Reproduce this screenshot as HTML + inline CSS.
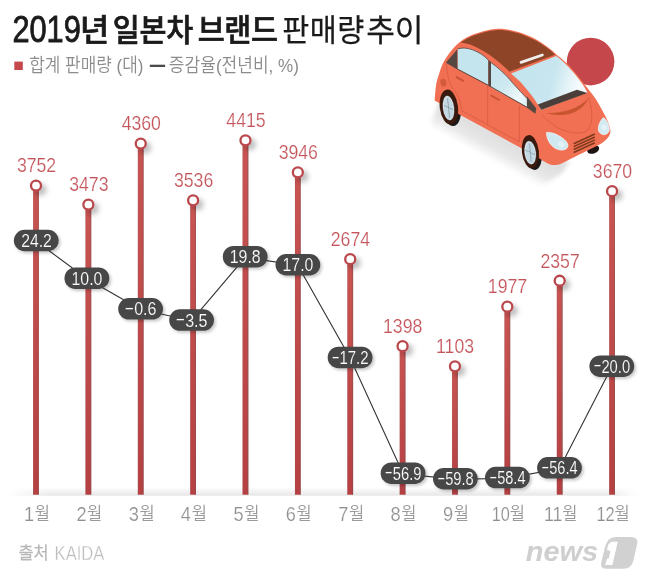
<!DOCTYPE html>
<html lang="ko">
<head>
<meta charset="utf-8">
<title>2019년 일본차 브랜드 판매량 추이</title>
<style>
html,body{margin:0;padding:0;background:#fff;}
body{width:647px;height:582px;overflow:hidden;font-family:"Liberation Sans","Noto Sans CJK KR",sans-serif;}
svg{display:block;}
text{font-family:"Liberation Sans","Noto Sans CJK KR",sans-serif;white-space:pre;}
</style>
</head>
<body>
<svg width="647" height="582" viewBox="0 0 647 582">
<defs>
<filter id="sh" x="-50%" y="-50%" width="220%" height="220%">
<feDropShadow dx="4.3" dy="4" stdDeviation="2.5" flood-color="#000" flood-opacity="0.25"/>
</filter>
<filter id="sh2" x="-30%" y="-50%" width="160%" height="220%">
<feDropShadow dx="1.8" dy="2" stdDeviation="1.7" flood-color="#000" flood-opacity="0.22"/>
</filter>
<linearGradient id="barv" x1="0" y1="0" x2="0" y2="1">
<stop offset="0" stop-color="#ca5452"/>
<stop offset="1" stop-color="#b63f42"/>
</linearGradient>
<linearGradient id="bare" x1="0" y1="0" x2="1" y2="0">
<stop offset="0" stop-color="#7a5a5a" stop-opacity="0.3"/>
<stop offset="0.2" stop-color="#7a5a5a" stop-opacity="0"/>
<stop offset="0.72" stop-color="#6a5555" stop-opacity="0"/>
<stop offset="0.9" stop-color="#6a5555" stop-opacity="0.38"/>
<stop offset="1" stop-color="#6a5555" stop-opacity="0.42"/>
</linearGradient>
<linearGradient id="floor" x1="0" y1="0" x2="0" y2="1">
<stop offset="0" stop-color="#ffffff"/>
<stop offset="1" stop-color="#e6e6e6"/>
</linearGradient>
<linearGradient id="floorfade" x1="0" y1="0" x2="1" y2="0">
<stop offset="0" stop-color="#fff" stop-opacity="1"/>
<stop offset="0.07" stop-color="#fff" stop-opacity="0"/>
<stop offset="0.95" stop-color="#fff" stop-opacity="0"/>
<stop offset="1" stop-color="#fff" stop-opacity="1"/>
</linearGradient>
<linearGradient id="glassW" gradientUnits="userSpaceOnUse" x1="528" y1="72" x2="578" y2="86">
<stop offset="0" stop-color="#c4e4ee"/>
<stop offset="0.5" stop-color="#c8e6ef"/>
<stop offset="0.8" stop-color="#e4f3f7"/>
<stop offset="1" stop-color="#f3fafc"/>
</linearGradient>
<linearGradient id="glassS" gradientUnits="userSpaceOnUse" x1="492" y1="70" x2="528" y2="100">
<stop offset="0" stop-color="#c4e4ee"/>
<stop offset="0.45" stop-color="#cfe9f1"/>
<stop offset="0.8" stop-color="#eef8fb"/>
<stop offset="1" stop-color="#dff1f6"/>
</linearGradient>
<filter id="carsh" x="-20%" y="-40%" width="140%" height="180%">
<feGaussianBlur stdDeviation="2"/>
</filter>
<linearGradient id="shg" gradientUnits="userSpaceOnUse" x1="480" y1="125" x2="467.6" y2="147.8">
<stop offset="0" stop-color="#000" stop-opacity="0.13"/>
<stop offset="0.55" stop-color="#000" stop-opacity="0.095"/>
<stop offset="1" stop-color="#000" stop-opacity="0"/>
</linearGradient>

</defs>
<rect width="647" height="582" fill="#ffffff"/>
<g id="title">
<text><tspan x="12.41" y="41.80" font-size="36.8" font-weight="400" fill="#1a1a1a" textLength="68.41" lengthAdjust="spacingAndGlyphs" stroke="#1a1a1a" stroke-width="0.8" stroke-linejoin="round">2019</tspan><tspan x="79.94" y="41.00" font-size="31.2" font-weight="500" fill="#1a1a1a" textLength="29.22" lengthAdjust="spacingAndGlyphs" stroke="#1a1a1a" stroke-width="0.7">년</tspan> <tspan x="112.74" y="41.00" font-size="31.2" font-weight="500" fill="#1a1a1a" letter-spacing="-0.212" textLength="80.35" lengthAdjust="spacingAndGlyphs" stroke="#1a1a1a" stroke-width="0.7">일본차</tspan> <tspan x="197.63" y="41.00" font-size="31.2" font-weight="500" fill="#1a1a1a" letter-spacing="-0.372" textLength="79.90" lengthAdjust="spacingAndGlyphs" stroke="#1a1a1a" stroke-width="0.7">브랜드</tspan> <tspan x="282.23" y="41.00" font-size="31.2" font-weight="400" fill="#1a1a1a" letter-spacing="0.532" textLength="82.45" lengthAdjust="spacingAndGlyphs" stroke="#1a1a1a" stroke-width="0.25">판매량</tspan> <tspan x="366.14" y="41.00" font-size="31.2" font-weight="400" fill="#1a1a1a" letter-spacing="-0.192" textLength="57.02" lengthAdjust="spacingAndGlyphs" stroke="#1a1a1a" stroke-width="0.25">추이</tspan></text>
</g>
<g id="legend">
<rect x="14.3" y="61.6" width="8.5" height="8.4" fill="#c4484c"/>
<text><tspan x="29.25" y="72.20" font-size="18.9" font-weight="350" fill="#8c8c8c" textLength="114.14" lengthAdjust="spacingAndGlyphs" >합계 판매량 (대)</tspan> <tspan x="168.85" y="72.20" font-size="18.9" font-weight="350" fill="#8c8c8c" textLength="130.06" lengthAdjust="spacingAndGlyphs" >증감율(전년비, %)</tspan></text>
<rect x="149.8" y="64.7" width="15.3" height="2.3" fill="#4a4a4a"/>
</g>
<rect x="8" y="487.2" width="630" height="8.5" fill="url(#floor)"/>
<rect x="8" y="487" width="630" height="9" fill="url(#floorfade)"/>
<g id="bars">
<rect x="33.10" y="185.56" width="5.8" height="309.14" fill="url(#barv)"/><rect x="33.10" y="185.56" width="5.8" height="309.14" fill="url(#bare)"/>
<rect x="85.47" y="204.60" width="5.8" height="290.10" fill="url(#barv)"/><rect x="85.47" y="204.60" width="5.8" height="290.10" fill="url(#bare)"/>
<rect x="137.84" y="143.57" width="5.8" height="351.13" fill="url(#barv)"/><rect x="137.84" y="143.57" width="5.8" height="351.13" fill="url(#bare)"/>
<rect x="190.21" y="200.30" width="5.8" height="294.40" fill="url(#barv)"/><rect x="190.21" y="200.30" width="5.8" height="294.40" fill="url(#bare)"/>
<rect x="242.58" y="140.32" width="5.8" height="354.38" fill="url(#barv)"/><rect x="242.58" y="140.32" width="5.8" height="354.38" fill="url(#bare)"/>
<rect x="294.95" y="172.32" width="5.8" height="322.38" fill="url(#barv)"/><rect x="294.95" y="172.32" width="5.8" height="322.38" fill="url(#bare)"/>
<rect x="347.32" y="259.13" width="5.8" height="235.57" fill="url(#barv)"/><rect x="347.32" y="259.13" width="5.8" height="235.57" fill="url(#bare)"/>
<rect x="399.69" y="346.20" width="5.8" height="148.50" fill="url(#barv)"/><rect x="399.69" y="346.20" width="5.8" height="148.50" fill="url(#bare)"/>
<rect x="452.06" y="366.33" width="5.8" height="128.37" fill="url(#barv)"/><rect x="452.06" y="366.33" width="5.8" height="128.37" fill="url(#bare)"/>
<rect x="504.43" y="306.69" width="5.8" height="188.01" fill="url(#barv)"/><rect x="504.43" y="306.69" width="5.8" height="188.01" fill="url(#bare)"/>
<rect x="556.80" y="280.76" width="5.8" height="213.94" fill="url(#barv)"/><rect x="556.80" y="280.76" width="5.8" height="213.94" fill="url(#bare)"/>
<rect x="609.17" y="191.16" width="5.8" height="303.54" fill="url(#barv)"/><rect x="609.17" y="191.16" width="5.8" height="303.54" fill="url(#bare)"/>
</g>
<g id="dots" filter="url(#sh)" fill="#fff" stroke="#b9474c" stroke-width="2.3">
<circle cx="36.00" cy="185.56" r="5.0"/>
<circle cx="88.37" cy="204.60" r="5.0"/>
<circle cx="140.74" cy="143.57" r="5.0"/>
<circle cx="193.11" cy="200.30" r="5.0"/>
<circle cx="245.48" cy="140.32" r="5.0"/>
<circle cx="297.85" cy="172.32" r="5.0"/>
<circle cx="350.22" cy="259.13" r="5.0"/>
<circle cx="402.59" cy="346.20" r="5.0"/>
<circle cx="454.96" cy="366.33" r="5.0"/>
<circle cx="507.33" cy="306.69" r="5.0"/>
<circle cx="559.70" cy="280.76" r="5.0"/>
<circle cx="612.07" cy="191.16" r="5.0"/>
</g>
<g id="vals">
<text><tspan x="16.89" y="172.36" font-size="20.5" font-weight="400" fill="#c4545a" textLength="39.31" lengthAdjust="spacingAndGlyphs" stroke="#ffffff" stroke-width="0.2">3752</tspan></text>
<text><tspan x="69.17" y="191.40" font-size="20.5" font-weight="400" fill="#c4545a" textLength="39.31" lengthAdjust="spacingAndGlyphs" stroke="#ffffff" stroke-width="0.2">3473</tspan></text>
<text><tspan x="121.63" y="130.37" font-size="20.5" font-weight="400" fill="#c4545a" textLength="39.31" lengthAdjust="spacingAndGlyphs" stroke="#ffffff" stroke-width="0.2">4360</tspan></text>
<text><tspan x="173.91" y="187.10" font-size="20.5" font-weight="400" fill="#c4545a" textLength="39.31" lengthAdjust="spacingAndGlyphs" stroke="#ffffff" stroke-width="0.2">3536</tspan></text>
<text><tspan x="226.37" y="127.12" font-size="20.5" font-weight="400" fill="#c4545a" textLength="39.31" lengthAdjust="spacingAndGlyphs" stroke="#ffffff" stroke-width="0.2">4415</tspan></text>
<text><tspan x="278.65" y="159.12" font-size="20.5" font-weight="400" fill="#c4545a" textLength="39.31" lengthAdjust="spacingAndGlyphs" stroke="#ffffff" stroke-width="0.2">3946</tspan></text>
<text><tspan x="330.75" y="245.93" font-size="20.5" font-weight="400" fill="#c4545a" textLength="39.31" lengthAdjust="spacingAndGlyphs" stroke="#ffffff" stroke-width="0.2">2674</tspan></text>
<text><tspan x="383.04" y="333.00" font-size="20.5" font-weight="400" fill="#c4545a" textLength="39.31" lengthAdjust="spacingAndGlyphs" stroke="#ffffff" stroke-width="0.2">1398</tspan></text>
<text><tspan x="436.06" y="353.13" font-size="20.5" font-weight="400" fill="#c4545a" textLength="38.00" lengthAdjust="spacingAndGlyphs" stroke="#ffffff" stroke-width="0.2">1103</tspan></text>
<text><tspan x="487.86" y="293.49" font-size="20.5" font-weight="400" fill="#c4545a" textLength="39.31" lengthAdjust="spacingAndGlyphs" stroke="#ffffff" stroke-width="0.2">1977</tspan></text>
<text><tspan x="540.41" y="267.56" font-size="20.5" font-weight="400" fill="#c4545a" textLength="39.31" lengthAdjust="spacingAndGlyphs" stroke="#ffffff" stroke-width="0.2">2357</tspan></text>
<text><tspan x="592.87" y="177.96" font-size="20.5" font-weight="400" fill="#c4545a" textLength="39.31" lengthAdjust="spacingAndGlyphs" stroke="#ffffff" stroke-width="0.2">3670</tspan></text>
</g>
<polyline points="36.2,241.2 86.9,278.8 140.6,309.5 191.6,320.7 245.2,257.3 297.9,265.4 350.1,358.1 403.1,473.8 455.4,479.4 507.4,478.2 559.5,468.5 611.8,366.8" fill="none" stroke="#333" stroke-width="1.1"/>
<g id="pills" filter="url(#sh2)" fill="#464646">
<rect x="13.85" y="229.75" width="44.8" height="21.5" rx="10.75"/>
<rect x="64.50" y="267.40" width="44.8" height="21.5" rx="10.75"/>
<rect x="118.20" y="298.10" width="44.8" height="21.5" rx="10.75"/>
<rect x="169.20" y="309.30" width="44.8" height="21.5" rx="10.75"/>
<rect x="222.80" y="245.90" width="44.8" height="21.5" rx="10.75"/>
<rect x="275.50" y="254.00" width="44.8" height="21.5" rx="10.75"/>
<rect x="327.70" y="346.70" width="44.8" height="21.5" rx="10.75"/>
<rect x="380.70" y="462.40" width="44.8" height="21.5" rx="10.75"/>
<rect x="433.00" y="468.00" width="44.8" height="21.5" rx="10.75"/>
<rect x="485.00" y="466.80" width="44.8" height="21.5" rx="10.75"/>
<rect x="537.10" y="457.10" width="44.8" height="21.5" rx="10.75"/>
<rect x="589.40" y="355.40" width="44.8" height="21.5" rx="10.75"/>
</g>
<g id="ptext">
<text><tspan x="21.16" y="246.95" font-size="18.6" font-weight="400" fill="#ffffff" textLength="30.72" lengthAdjust="spacingAndGlyphs" stroke="#464646" stroke-width="0.15">24.2</tspan></text>
<text><tspan x="71.49" y="284.60" font-size="18.6" font-weight="400" fill="#ffffff" textLength="30.88" lengthAdjust="spacingAndGlyphs" stroke="#464646" stroke-width="0.15">10.0</tspan></text>
<text><tspan x="124.33" y="313.10" font-size="16" font-weight="400" fill="#ffffff" textLength="10.12" lengthAdjust="spacingAndGlyphs" stroke="#464646" stroke-width="0.15">-</tspan><tspan x="134.17" y="315.30" font-size="18.6" font-weight="400" fill="#ffffff" textLength="22.36" lengthAdjust="spacingAndGlyphs" stroke="#464646" stroke-width="0.15">0.6</tspan></text>
<text><tspan x="175.33" y="324.30" font-size="16" font-weight="400" fill="#ffffff" textLength="10.12" lengthAdjust="spacingAndGlyphs" stroke="#464646" stroke-width="0.15">-</tspan><tspan x="185.17" y="326.50" font-size="18.6" font-weight="400" fill="#ffffff" textLength="22.36" lengthAdjust="spacingAndGlyphs" stroke="#464646" stroke-width="0.15">3.5</tspan></text>
<text><tspan x="229.79" y="263.10" font-size="18.6" font-weight="400" fill="#ffffff" textLength="30.88" lengthAdjust="spacingAndGlyphs" stroke="#464646" stroke-width="0.15">19.8</tspan></text>
<text><tspan x="282.49" y="271.20" font-size="18.6" font-weight="400" fill="#ffffff" textLength="30.88" lengthAdjust="spacingAndGlyphs" stroke="#464646" stroke-width="0.15">17.0</tspan></text>
<text><tspan x="331.64" y="361.70" font-size="16" font-weight="400" fill="#ffffff" textLength="8.39" lengthAdjust="spacingAndGlyphs" stroke="#464646" stroke-width="0.15">-</tspan><tspan x="339.40" y="363.90" font-size="18.6" font-weight="400" fill="#ffffff" textLength="29.14" lengthAdjust="spacingAndGlyphs" stroke="#464646" stroke-width="0.15">17.2</tspan></text>
<text><tspan x="384.64" y="477.40" font-size="16" font-weight="400" fill="#ffffff" textLength="8.39" lengthAdjust="spacingAndGlyphs" stroke="#464646" stroke-width="0.15">-</tspan><tspan x="392.86" y="479.60" font-size="18.6" font-weight="400" fill="#ffffff" textLength="28.67" lengthAdjust="spacingAndGlyphs" stroke="#464646" stroke-width="0.15">56.9</tspan></text>
<text><tspan x="436.94" y="483.00" font-size="16" font-weight="400" fill="#ffffff" textLength="8.39" lengthAdjust="spacingAndGlyphs" stroke="#464646" stroke-width="0.15">-</tspan><tspan x="445.16" y="485.20" font-size="18.6" font-weight="400" fill="#ffffff" textLength="28.52" lengthAdjust="spacingAndGlyphs" stroke="#464646" stroke-width="0.15">59.8</tspan></text>
<text><tspan x="488.94" y="481.80" font-size="16" font-weight="400" fill="#ffffff" textLength="8.39" lengthAdjust="spacingAndGlyphs" stroke="#464646" stroke-width="0.15">-</tspan><tspan x="497.17" y="484.00" font-size="18.6" font-weight="400" fill="#ffffff" textLength="28.36" lengthAdjust="spacingAndGlyphs" stroke="#464646" stroke-width="0.15">58.4</tspan></text>
<text><tspan x="541.04" y="472.10" font-size="16" font-weight="400" fill="#ffffff" textLength="8.39" lengthAdjust="spacingAndGlyphs" stroke="#464646" stroke-width="0.15">-</tspan><tspan x="549.27" y="474.30" font-size="18.6" font-weight="400" fill="#ffffff" textLength="28.36" lengthAdjust="spacingAndGlyphs" stroke="#464646" stroke-width="0.15">56.4</tspan></text>
<text><tspan x="593.34" y="370.40" font-size="16" font-weight="400" fill="#ffffff" textLength="8.39" lengthAdjust="spacingAndGlyphs" stroke="#464646" stroke-width="0.15">-</tspan><tspan x="601.41" y="372.60" font-size="18.6" font-weight="400" fill="#ffffff" textLength="28.67" lengthAdjust="spacingAndGlyphs" stroke="#464646" stroke-width="0.15">20.0</tspan></text>
</g>
<g id="months">
<text><tspan x="24.11" y="520.90" font-size="20.7" font-weight="400" fill="#909090" textLength="10.13" lengthAdjust="spacingAndGlyphs" stroke="#ffffff" stroke-width="0.2">1</tspan><tspan x="34.74" y="520.40" font-size="18.7" font-weight="350" fill="#9a9a9a" textLength="15.22" lengthAdjust="spacingAndGlyphs" >월</tspan></text>
<text><tspan x="76.48" y="520.90" font-size="20.7" font-weight="400" fill="#909090" textLength="10.13" lengthAdjust="spacingAndGlyphs" stroke="#ffffff" stroke-width="0.2">2</tspan><tspan x="87.11" y="520.40" font-size="18.7" font-weight="350" fill="#9a9a9a" textLength="15.22" lengthAdjust="spacingAndGlyphs" >월</tspan></text>
<text><tspan x="128.67" y="520.90" font-size="20.7" font-weight="400" fill="#909090" textLength="10.13" lengthAdjust="spacingAndGlyphs" stroke="#ffffff" stroke-width="0.2">3</tspan><tspan x="139.48" y="520.40" font-size="18.7" font-weight="350" fill="#9a9a9a" textLength="15.22" lengthAdjust="spacingAndGlyphs" >월</tspan></text>
<text><tspan x="180.86" y="520.90" font-size="20.7" font-weight="400" fill="#909090" textLength="10.13" lengthAdjust="spacingAndGlyphs" stroke="#ffffff" stroke-width="0.2">4</tspan><tspan x="191.85" y="520.40" font-size="18.7" font-weight="350" fill="#9a9a9a" textLength="15.22" lengthAdjust="spacingAndGlyphs" >월</tspan></text>
<text><tspan x="233.41" y="520.90" font-size="20.7" font-weight="400" fill="#909090" textLength="10.13" lengthAdjust="spacingAndGlyphs" stroke="#ffffff" stroke-width="0.2">5</tspan><tspan x="244.22" y="520.40" font-size="18.7" font-weight="350" fill="#9a9a9a" textLength="15.22" lengthAdjust="spacingAndGlyphs" >월</tspan></text>
<text><tspan x="285.78" y="520.90" font-size="20.7" font-weight="400" fill="#909090" textLength="10.13" lengthAdjust="spacingAndGlyphs" stroke="#ffffff" stroke-width="0.2">6</tspan><tspan x="296.59" y="520.40" font-size="18.7" font-weight="350" fill="#9a9a9a" textLength="15.22" lengthAdjust="spacingAndGlyphs" >월</tspan></text>
<text><tspan x="338.33" y="520.90" font-size="20.7" font-weight="400" fill="#909090" textLength="10.13" lengthAdjust="spacingAndGlyphs" stroke="#ffffff" stroke-width="0.2">7</tspan><tspan x="348.96" y="520.40" font-size="18.7" font-weight="350" fill="#9a9a9a" textLength="15.22" lengthAdjust="spacingAndGlyphs" >월</tspan></text>
<text><tspan x="390.52" y="520.90" font-size="20.7" font-weight="400" fill="#909090" textLength="10.13" lengthAdjust="spacingAndGlyphs" stroke="#ffffff" stroke-width="0.2">8</tspan><tspan x="401.33" y="520.40" font-size="18.7" font-weight="350" fill="#9a9a9a" textLength="15.22" lengthAdjust="spacingAndGlyphs" >월</tspan></text>
<text><tspan x="443.07" y="520.90" font-size="20.7" font-weight="400" fill="#909090" textLength="10.13" lengthAdjust="spacingAndGlyphs" stroke="#ffffff" stroke-width="0.2">9</tspan><tspan x="453.70" y="520.40" font-size="18.7" font-weight="350" fill="#9a9a9a" textLength="15.22" lengthAdjust="spacingAndGlyphs" >월</tspan></text>
<text><tspan x="491.69" y="520.90" font-size="20.7" font-weight="400" fill="#909090" textLength="18.13" lengthAdjust="spacingAndGlyphs" stroke="#ffffff" stroke-width="0.2">10</tspan><tspan x="509.87" y="520.40" font-size="18.7" font-weight="350" fill="#9a9a9a" textLength="15.22" lengthAdjust="spacingAndGlyphs" >월</tspan></text>
<text><tspan x="543.95" y="520.90" font-size="20.7" font-weight="400" fill="#909090" textLength="18.47" lengthAdjust="spacingAndGlyphs" stroke="#ffffff" stroke-width="0.2">11</tspan><tspan x="562.24" y="520.40" font-size="18.7" font-weight="350" fill="#9a9a9a" textLength="15.22" lengthAdjust="spacingAndGlyphs" >월</tspan></text>
<text><tspan x="596.42" y="520.90" font-size="20.7" font-weight="400" fill="#909090" textLength="18.31" lengthAdjust="spacingAndGlyphs" stroke="#ffffff" stroke-width="0.2">12</tspan><tspan x="614.61" y="520.40" font-size="18.7" font-weight="350" fill="#9a9a9a" textLength="15.22" lengthAdjust="spacingAndGlyphs" >월</tspan></text>
</g>
<g id="source">
<text><tspan x="18.48" y="558.90" font-size="17.4" font-weight="400" fill="#b7b7b7" textLength="30.19" lengthAdjust="spacingAndGlyphs" stroke="#b7b7b7" stroke-width="0.25">출처</tspan> <tspan x="54.57" y="560.40" font-size="20.2" font-weight="400" fill="#bdbdbd" textLength="49.78" lengthAdjust="spacingAndGlyphs" stroke="#ffffff" stroke-width="0.35">KAIDA</tspan></text>
</g>
<g id="logo">
<clipPath id="oneclip"><path d="M617.7 541.8 L612.3 565 L605.3 565 L609.3 550.2 L604.2 550.4 L604.9 546.3 L611.4 541.8 Z"/></clipPath>
<path d="M615.5 536.9 L630.6 536.9 Q638.4 536.9 637.2 543.6 L633.5 560.2 Q631.6 568.7 623.2 568.7 L606.4 568.7 Q600 568.7 601.2 562.8 L604.6 548.4 Q607.2 536.9 615.5 536.9 Z" fill="#d1d1d1"/>
<text><tspan x="525.71" y="560.90" font-size="27.6" font-weight="700" fill="#cfcfcf" textLength="72.55" lengthAdjust="spacingAndGlyphs" font-style="italic">news</tspan></text>
<g clip-path="url(#oneclip)"><g transform="translate(605 565) skewX(-7) translate(-605 -565)"><text><tspan x="604.36" y="565.00" font-size="34" font-weight="700" fill="#ffffff" textLength="13.13" lengthAdjust="spacingAndGlyphs" font-style="italic" stroke="#ffffff" stroke-width="4.6" stroke-linejoin="round">1</tspan></text></g></g>
</g>
<g id="car">
<circle cx="590.6" cy="61.6" r="23.8" fill="#c5474b"/>
<g filter="url(#carsh)"><path d="M439.5 101 L548 160.5 L570 161 L562 173 L545 184 L531 188 L428 130" fill="url(#shg)"/></g>
<ellipse cx="593.2" cy="149.6" rx="6.2" ry="3.9" fill="#1d1412" transform="rotate(-20 593.2 149.6)"/>
<ellipse cx="451.6" cy="109" rx="9.1" ry="17.2" fill="#1b1817" transform="rotate(-7 451.6 109)"/>
<ellipse cx="533.2" cy="153.6" rx="8.6" ry="16.4" fill="#1b1817" transform="rotate(-7 533.2 153.6)"/>
<path id="carbody" d="M434.6 100.5 C434.7 99.9 434.6 99.7 434.9 97.0 C435.2 94.3 435.5 88.4 436.2 84.4 C436.9 80.4 438.1 76.9 439.3 73.2 C440.5 69.5 441.7 65.8 443.6 62.1 C445.6 58.4 448.2 54.4 451.0 51.0 C453.8 47.6 457.0 44.3 460.3 41.7 C463.6 39.1 467.0 37.2 470.8 35.5 C474.6 33.8 479.1 32.3 483.2 31.2 C487.3 30.1 491.9 29.3 495.5 29.0 C499.1 28.7 502.2 28.9 505.0 29.2 C507.8 29.5 509.1 29.8 512.4 30.6 C515.7 31.5 520.6 32.7 524.7 34.3 C528.8 35.9 533.0 37.7 537.1 40.1 C541.2 42.5 546.4 46.2 549.5 48.5 C552.6 50.8 552.7 51.2 555.6 53.7 C558.5 56.2 563.7 60.3 566.8 63.3 C569.9 66.2 572.0 68.9 574.2 71.4 C576.4 73.9 577.8 75.6 580.0 78.4 C582.2 81.2 585.2 85.1 587.6 88.2 C590.0 91.3 592.0 93.5 594.4 97.0 C596.8 100.5 599.6 105.5 601.8 109.4 C604.0 113.3 606.0 117.2 607.4 120.5 C608.8 123.8 609.8 126.8 610.2 129.1 C610.6 131.4 610.5 132.4 609.9 134.1 C609.3 135.8 608.5 137.2 606.8 139.0 C605.0 140.8 602.7 142.6 599.4 144.6 C596.1 146.6 591.8 148.4 587.0 150.8 C582.2 153.2 575.2 156.6 570.9 158.8 C566.6 161.0 563.5 162.8 561.0 163.8 C558.5 164.8 558.0 164.9 556.1 165.0 C554.2 165.1 552.0 165.0 549.9 164.4 C547.8 163.8 545.4 162.2 543.7 161.3 C542.1 160.4 540.6 159.2 540.0 158.8 L521.9 148.5 L461.2 115.5 L440.0 103.4 Z" fill="#f16f53"/>
<path id="roof" d="M460.6 42.5 C462.3 41.5 467.0 38.4 470.8 36.7 C474.6 35.0 479.1 33.5 483.2 32.4 C487.3 31.3 491.9 30.5 495.5 30.2 C499.1 29.9 502.2 30.1 505.0 30.4 C507.8 30.6 509.1 30.9 512.4 31.7 C515.7 32.5 520.6 33.8 524.7 35.4 C528.8 37.0 533.0 38.9 537.1 41.3 C541.2 43.7 546.5 47.5 549.5 49.7 C552.5 51.9 554.1 53.9 555.0 54.7 L509.3 71.7 C508.0 70.5 504.6 67.1 501.7 64.6 C498.8 62.1 495.1 58.9 491.8 56.5 C488.5 54.1 485.4 52.2 481.9 50.3 C478.4 48.3 474.4 46.1 470.8 44.8 C467.2 43.5 462.3 42.9 460.6 42.5 Z" fill="#8e4527"/>
<path d="M521 62.4 L542.4 55" fill="none" stroke="#eeeeee" stroke-width="2.7" stroke-linecap="round"/>
<path id="wshield" d="M511 73.4 L556.3 56.1 C557.2 56.8 559.8 58.8 561.5 60.3 C563.2 61.8 564.7 63.1 566.8 65.2 C568.9 67.4 572.2 70.8 574.2 73.2 C576.2 75.6 577.6 77.3 579.1 79.4 C580.6 81.5 582.0 83.4 583.4 85.6 C584.8 87.8 586.7 91.4 587.4 92.6 L541.4 109.8 L537.8 104.5 C537.1 103.5 535.6 100.9 533.7 98.3 C531.8 95.7 528.8 92.0 526.4 89.1 C524.0 86.2 521.8 83.4 519.2 80.8 C516.6 78.2 512.4 74.6 511.0 73.4 Z" fill="url(#glassW)"/>
<path d="M537.8 104.4 L577 89.7 L587.4 92.9 L541.4 109.8 Z" fill="#4b3e3a"/>
<path d="M446.2 62.2 L457.3 49.2 L457.6 69.2 Z" fill="#554843"/>
<path d="M457.8 48.9 C460 48.2 462 48 464.1 48 C467 48.2 470 48.8 472.6 49.8 C475.6 50.8 478.5 52.4 481.1 54 C483.7 55.7 486.1 57.7 488.3 60 L488.3 85 L457.8 69 Z" fill="#c5e5ee"/>
<path d="M488.3 60 L491 62.5 L491 86.6 L488.3 85.2 Z" fill="#554843"/>
<path d="M491 62.5 C494.8 65.2 498.3 68 501.5 71 C505.8 75 509.8 79.3 513.4 83.8 C518 89 522.6 93.8 527 98.6 L527 107 L491 87.2 Z" fill="url(#glassS)"/>
<path d="M526.9 96.2 C530.2 100.3 533.4 104.4 536.3 108.4 L535.4 113.2 L526.9 107 Z" fill="#554843"/>
<path d="M457.8 48.9 C460 48.2 462 48 464.1 48 C467 48.2 470 48.8 472.6 49.8 C475.6 50.8 478.5 52.4 481.1 54 C483.7 55.7 486.1 57.7 488.3 60 L491 62.5 C494.8 65.2 498.3 68 501.5 71 C505.8 75 509.8 79.3 513.4 83.8 C518 89 522.6 93.8 527 98.6" fill="none" stroke="#554843" stroke-width="0.8"/>
<path d="M446.2 62.4 L457.7 69.2 L488.3 85.3 L491 86.8 L527 107.3 L535.4 113.2" fill="none" stroke="#554843" stroke-width="1"/>
<g fill="none" stroke="#d5573d" stroke-width="0.7">
<path d="M487.6 86 L487.6 124.6"/>
<path d="M519.4 105.5 L519.4 142"/>
<path d="M461.6 110.6 L519.4 142"/>
<path d="M446.3 63.4 C446.6 68 447.2 72.3 448 76.1 C448.6 79.2 449.4 82 450.5 84.6 C452.3 88.6 455 91.3 457.3 94.8 C459.3 98 460.2 101.5 460.7 105 C461 106.9 461.3 108.8 461.6 110.6"/>
<path d="M542.2 114.9 C545.2 118.4 548.6 121.5 552.4 124.2 C556.6 127.3 561.2 129.6 566 131 C570.4 132.4 575 133.3 579.6 133 C583.4 132.8 586.6 131.7 588.1 129.3 C589.9 126.8 590.9 123.8 591.5 120.8 C592.3 115.8 591.6 110.6 590.7 105.5 C590.2 102.7 589.6 99.8 589 97"/>
</g>
<g fill="none" stroke="#cd5537" stroke-width="2.1" stroke-linecap="round">
<path d="M456.5 77 L463.2 80.8"/>
<path d="M491.3 95.7 L498.9 99.9"/>
</g>
<ellipse cx="443.4" cy="82.6" rx="3" ry="3.9" fill="#d35b3b" transform="rotate(-12 443.4 82.6)"/>
<path d="M546.6 112.9 C554.5 113.2 563 112.2 570.6 109.6 C577.4 107.2 583.6 103.2 588.6 98 C585.6 105.2 579.6 110.4 572.4 113 C564.2 115.9 554.6 115.6 546.6 112.9 Z" fill="#c9552f"/>
<path d="M546.4 132.7 C550 132 554.5 133.3 558.5 135.6 C562.6 137.9 566.3 140.8 567.7 144 C568.6 146.8 567 149.2 563.6 149.9 C559.7 150.6 555.4 148.9 552.2 146 C548.6 142.6 546.6 137.4 546.4 132.7 Z" fill="#cfe9f1" stroke="#f4fafc" stroke-width="0.7"/>
<path d="M603.4 117.6 C606.3 119.6 608.4 123.6 609.2 127.5 C609.9 130.6 608.6 133.4 605.6 134.4 C602.6 135.3 599.4 133.6 598.5 130.5 C597.7 126.4 600.2 120.6 603.4 117.6 Z" fill="#d2eaf2" stroke="#f4fafc" stroke-width="0.7"/>
<g fill="#ffffff" opacity="0.4"><ellipse cx="561.3" cy="144.3" rx="3.4" ry="2.6" transform="rotate(35 561.3 144.3)"/><ellipse cx="604.2" cy="127.4" rx="2.6" ry="2.9"/></g>
<g fill="none" stroke="#7e3b1c" stroke-width="1.55" stroke-linecap="round">
<path d="M574.2 143.5 L594.3 134.3"/>
<path d="M574.2 146.4 L594.3 137.2"/>
<path d="M574.2 149.3 L594.3 140.1"/>
<path d="M574.2 152.2 L594.3 143.0"/>
</g>
<g id="wheelR">
<ellipse cx="448.9" cy="107.1" rx="9.1" ry="17.6" fill="#3a1a0f" transform="rotate(-7 448.9 107.1)"/>
<ellipse cx="448.5" cy="108" rx="5.9" ry="12.6" fill="#6b6e72" transform="rotate(-7 448.5 108)"/>
<ellipse cx="448.5" cy="108" rx="5.4" ry="12.1" fill="#e8eef1" transform="rotate(-7 448.5 108)"/>
<ellipse cx="448.6" cy="108.1" rx="4.8" ry="11.4" fill="#c3d8e2" transform="rotate(-7 448.6 108.1)"/>
<path d="M447.6 98.5 L449.6 118 M443.9 105.3 L453.3 109.8" stroke="#7f909b" stroke-width="0.7" fill="none"/>
</g>
<g id="wheelF">
<ellipse cx="530.4" cy="151.8" rx="8.5" ry="16.8" fill="#3a1a0f" transform="rotate(-7 530.4 151.8)"/>
<ellipse cx="530.2" cy="152.7" rx="6" ry="12" fill="#6b6e72" transform="rotate(-7 530.2 152.7)"/>
<ellipse cx="530.2" cy="152.7" rx="5.5" ry="11.5" fill="#e8eef1" transform="rotate(-7 530.2 152.7)"/>
<ellipse cx="530.3" cy="152.8" rx="4.9" ry="10.8" fill="#c3d8e2" transform="rotate(-7 530.3 152.8)"/>
<path d="M529.4 143.5 L531.2 162" stroke="#9fb2bd" stroke-width="1.2" fill="none"/>
<path d="M525.4 150.3 L529.5 151.6 L531 153 L535 154.6" stroke="#7f909b" stroke-width="0.6" fill="none"/>
</g>
</g>

</svg>
</body>
</html>
